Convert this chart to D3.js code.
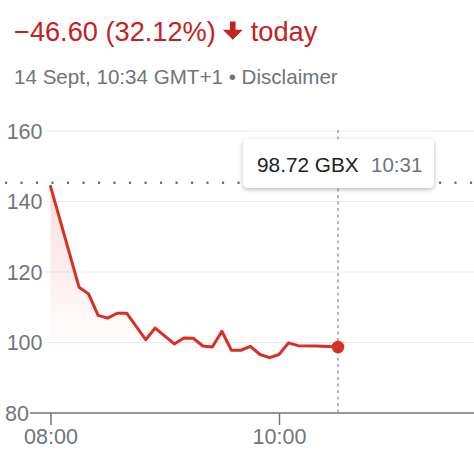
<!DOCTYPE html>
<html>
<head>
<meta charset="utf-8">
<script src="https://cdn.jsdelivr.net/npm/d3@7"></script>
<style>
  html, body { margin: 0; padding: 0; background: #fff; }
  svg { display: block; font-family: Arial, "Liberation Sans", sans-serif; }
</style>
</head>
<body>
<svg id="chart" width="474" height="451"></svg>
<script>
// ---- data ----
const times = ["08:00","08:15","08:20","08:25","08:30","08:35","08:40","08:50","08:55",
  "09:05","09:10","09:15","09:20","09:25","09:30","09:35","09:40","09:45","09:50",
  "09:55","10:00","10:05","10:10","10:20","10:31"];
const prices = [144.3,115.7,113.8,107.7,106.9,108.3,108.3,100.8,104.1,
  99.6,101.3,101.2,99.0,98.7,103.2,97.8,97.8,98.9,96.6,
  95.7,96.6,99.9,99.1,99.0,98.72];
const previousClose = 145.32;
const yTicks = [80, 100, 120, 140, 160];
const xTickLabels = ["08:00", "10:00"];
const headerChange = "\u221246.60 (32.12%)";
const headerSuffix = "today";
const subtitle = "14 Sept, 10:34 GMT+1 \u2022 Disclaimer";
const tooltipPrice = "98.72 GBX";
const tooltipTime = "10:31";

// ---- setup ----
const W = 474, H = 451;
const svg = d3.select("#chart");
const parse = d3.timeParse("%H:%M");
const data = times.map((t, i) => ({ t: parse(t), v: prices[i] }));

const x = d3.scaleTime().domain([parse("08:00"), parse("10:00")]).range([50.5, 279]);
const y = d3.scaleLinear().domain([80, 160]).range([413, 131]);

const red = "#d93025";
const textRed = "#c5221f";
const gray = "#70757a";

// header
const h1 = svg.append("text").attr("x", 14).attr("y", 41)
  .attr("font-size", 27.2).attr("fill", textRed).text(headerChange);
const h1End = 14 + h1.node().getComputedTextLength();
const ax = h1End + 7;
svg.append("path")
  .attr("d", `M${ax + 7.2},21.5 h5.6 v8.3 h7.2 l-10,10 l-10,-10 h7.2 z`)
  .attr("fill", textRed);
svg.append("text").attr("x", ax + 20 + 8).attr("y", 41)
  .attr("font-size", 27.2).attr("fill", textRed).text(headerSuffix);

svg.append("text").attr("x", 14).attr("y", 84)
  .attr("font-size", 20.6).attr("fill", gray).text(subtitle);

// gradient
const defs = svg.append("defs");
const grad = defs.append("linearGradient").attr("id", "fillGrad")
  .attr("gradientUnits", "userSpaceOnUse")
  .attr("x1", 0).attr("x2", 0).attr("y1", y(145)).attr("y2", y(97));
grad.append("stop").attr("offset", 0).attr("stop-color", red).attr("stop-opacity", 0.16);
grad.append("stop").attr("offset", 1).attr("stop-color", red).attr("stop-opacity", 0);
const shadow = defs.append("filter").attr("id", "shadow")
  .attr("x", "-20%").attr("y", "-30%").attr("width", "140%").attr("height", "170%");
shadow.append("feDropShadow").attr("dx", 0).attr("dy", 1.5).attr("stdDeviation", 2)
  .attr("flood-color", "#000").attr("flood-opacity", 0.28);

// grid lines
svg.append("g").selectAll("line").data(yTicks.filter(d => d !== 80)).join("line")
  .attr("x1", 45).attr("x2", W).attr("y1", d => y(d)).attr("y2", d => y(d))
  .attr("stroke", "#ececec").attr("stroke-width", 1.2);

// y labels
svg.append("g").selectAll("text").data(yTicks).join("text")
  .attr("x", d => d === 80 ? 29 : 42.5)
  .attr("y", d => y(d)).attr("dy", "0.36em")
  .attr("text-anchor", "end").attr("font-size", 21.5).attr("fill", gray)
  .text(d => d);

// x axis
svg.append("line").attr("x1", 30).attr("x2", W).attr("y1", y(80)).attr("y2", y(80))
  .attr("stroke", gray).attr("stroke-width", 1.5);
const xAxis = d3.axisBottom(x).tickValues(xTickLabels.map(parse))
  .tickFormat(d3.timeFormat("%H:%M")).tickSize(12).tickPadding(4);
const gx = svg.append("g").attr("transform", `translate(0,${y(80)})`).call(xAxis);
gx.select(".domain").remove();
gx.selectAll(".tick line").attr("stroke", gray).attr("stroke-width", 1.5);
gx.selectAll(".tick text").attr("font-size", 21.5).attr("fill", gray)
  .attr("font-family", 'Arial, "Liberation Sans", sans-serif');

// previous close dotted line
svg.append("line").attr("x1", 6).attr("x2", W).attr("y1", y(previousClose)).attr("y2", y(previousClose))
  .attr("stroke", "#5f6368").attr("stroke-width", 2.4)
  .attr("stroke-linecap", "round").attr("stroke-dasharray", "0.1,15.4");

// area + line
const last = data[data.length - 1];
svg.append("path").datum(data)
  .attr("d", d3.area().x(d => x(d.t)).y0(y(80)).y1(d => y(d.v)))
  .attr("fill", "url(#fillGrad)");
svg.append("path").datum(data)
  .attr("d", d3.line().x(d => x(d.t)).y(d => y(d.v)))
  .attr("fill", "none").attr("stroke", red).attr("stroke-width", 3)
  .attr("stroke-linejoin", "round").attr("stroke-linecap", "round");

// hover vertical line
svg.append("line").attr("x1", x(last.t)).attr("x2", x(last.t))
  .attr("y1", 130).attr("y2", y(80))
  .attr("stroke", "#9aa0a6").attr("stroke-width", 1.5).attr("stroke-dasharray", "3,3.5");

svg.append("circle").attr("cx", x(last.t)).attr("cy", y(last.v)).attr("r", 6.3).attr("fill", red);

// tooltip
const tip = svg.append("g").attr("transform", "translate(243,139)");
tip.append("rect").attr("width", 191).attr("height", 49).attr("rx", 5)
  .attr("fill", "#fff").attr("filter", "url(#shadow)");
tip.append("text").attr("x", 14).attr("y", 32.5).attr("font-size", 20.8)
  .attr("fill", "#202124").text(tooltipPrice);
tip.append("text").attr("x", 128).attr("y", 32.5).attr("font-size", 20.5)
  .attr("fill", gray).text(tooltipTime);
</script>
</body>
</html>
